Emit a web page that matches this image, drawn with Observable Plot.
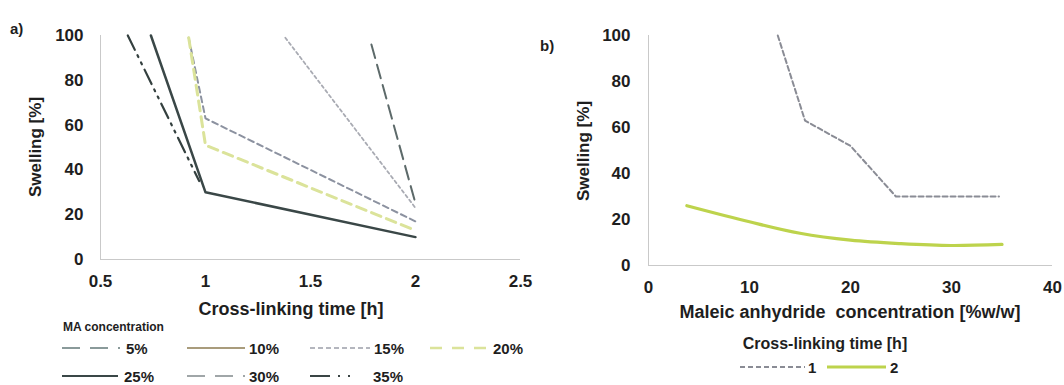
<!DOCTYPE html>
<html><head><meta charset="utf-8">
<script src="https://cdn.jsdelivr.net/npm/d3@7"></script>
<script src="https://cdn.jsdelivr.net/npm/@observablehq/plot@0.6"></script>
<style>
body{margin:0;background:#fff;}
#wrap{position:relative;width:1064px;height:385px;overflow:hidden;background:#fff}
#wrap > svg{position:absolute;top:0}
</style></head><body><div id="wrap"></div>
<script>
// ---- Panel a data: swelling [%] vs cross-linking time [h], per MA concentration
const t5 = [1.79, 2],        sw5 = [96, 25];
const t10 = [1.38, 2],       sw10 = [99, 23];
const t15 = [0.92, 1, 2],    sw15 = [99, 63, 17];
const t20 = [0.92, 1, 2],    sw20 = [99, 51, 13];
const t25 = [0.74, 1, 2],    sw25 = [100, 30, 10];
const t35 = [0.63, 0.97],    sw35 = [100, 35];
const legendA = ["5%", "10%", "15%", "20%", "25%", "30%", "35%"];
const xTicksA = [0.5, 1, 1.5, 2, 2.5];
const yTicks = [0, 20, 40, 60, 80, 100];

// ---- Panel b data: swelling [%] vs maleic anhydride concentration [%w/w]
const conc1 = [12.8, 15.5, 20, 24.5, 30, 34.7], sw1 = [100, 63, 52, 30, 30, 30];
const conc2 = [3.8, 10, 15, 20, 25, 30, 35],     sw2 = [26, 19, 14, 11, 9.5, 8.7, 9.2];
const legendB = ["1", "2"];
const xTicksB = [0, 10, 20, 30, 40];

const FONT = '"Liberation Sans", Arial, sans-serif';
const tbl = (xs, ys) => xs.map((x, i) => ({x, y: ys[i]}));
const axisCol = "#c9c9c9";

const stylesA = {
  s10: {stroke: "#a9abb3", strokeWidth: 1.8, strokeDasharray: "3,3"},
  s5:  {stroke: "#5d6a6a", strokeWidth: 2, strokeDasharray: "14,7"},
  s15: {stroke: "#8c92a0", strokeWidth: 2, strokeDasharray: "6,4"},
  s20: {stroke: "#dbe39a", strokeWidth: 3, strokeDasharray: "10,6"},
  s25: {stroke: "#3a4747", strokeWidth: 2.5},
  s35: {stroke: "#34403f", strokeWidth: 2.2, strokeDasharray: "16,6,2,6,2,6"}
};

const plotA = Plot.plot({
  width: 540, height: 300,
  marginLeft: 100, marginRight: 20, marginTop: 35, marginBottom: 41,
  style: {fontFamily: FONT, fontSize: "17px", fontWeight: "bold", color: "#1e1e1e", background: "transparent"},
  x: {domain: [0.5, 2.5]},
  y: {domain: [0, 100]},
  marks: [
    Plot.ruleX([0.5], {y1: 0, y2: 100, stroke: axisCol}),
    Plot.ruleY([0], {stroke: axisCol}),
    Plot.axisX({ticks: xTicksA, tickSize: 0, tickPadding: 15, label: null, tickFormat: d => String(d)}),
    Plot.axisY({ticks: yTicks, tickSize: 0, tickPadding: 17, label: null}),
    Plot.line(tbl(t10, sw10), {x: "x", y: "y", ...stylesA.s10}),
    Plot.line(tbl(t5, sw5), {x: "x", y: "y", ...stylesA.s5}),
    Plot.line(tbl(t15, sw15), {x: "x", y: "y", ...stylesA.s15}),
    Plot.line(tbl(t20, sw20), {x: "x", y: "y", ...stylesA.s20}),
    Plot.line(tbl(t35, sw35), {x: "x", y: "y", ...stylesA.s35}),
    Plot.line(tbl(t25, sw25), {x: "x", y: "y", ...stylesA.s25})
  ]
});

const plotB = Plot.plot({
  width: 524, height: 300,
  marginLeft: 108, marginRight: 12, marginTop: 35, marginBottom: 35,
  style: {fontFamily: FONT, fontSize: "17px", fontWeight: "bold", color: "#1e1e1e", background: "transparent"},
  x: {domain: [0, 40]},
  y: {domain: [0, 100]},
  marks: [
    Plot.ruleX([0], {y1: 0, y2: 100, stroke: axisCol}),
    Plot.ruleY([0], {stroke: axisCol}),
    Plot.axisX({ticks: xTicksB, tickSize: 0, tickPadding: 15, label: null}),
    Plot.axisY({ticks: yTicks, tickSize: 0, tickPadding: 18, label: null}),
    Plot.line(tbl(conc1, sw1), {x: "x", y: "y", stroke: "#8a8c95", strokeWidth: 2, strokeDasharray: "5,3"}),
    Plot.line(tbl(conc2, sw2), {x: "x", y: "y", stroke: "#bdd34c", strokeWidth: 3.2, curve: "catmull-rom"})
  ]
});

const wrap = document.getElementById("wrap");
plotA.style.left = "0px";
plotB.style.left = "540px";
wrap.appendChild(plotA);
wrap.appendChild(plotB);

// ---- Overlay: panel letters, axis titles, legends
const ov = d3.select(wrap).append("svg")
  .attr("width", 1064).attr("height", 385)
  .style("left", "0px")
  .style("font-family", FONT).style("font-weight", "bold").style("fill", "#1e1e1e");

function txt(s, x, y, size, anchor = "middle", rot = 0) {
  const t = ov.append("text").text(s)
    .attr("font-size", size).attr("text-anchor", anchor)
    .attr("dominant-baseline", "central");
  if (rot) t.attr("transform", `translate(${x},${y}) rotate(${rot})`);
  else t.attr("x", x).attr("y", y);
  return t;
}
function sw(x1, x2, y, st) {
  ov.append("line").attr("x1", x1).attr("x2", x2).attr("y1", y).attr("y2", y)
    .attr("stroke", st.stroke).attr("stroke-width", st.strokeWidth)
    .attr("stroke-dasharray", st.strokeDasharray || null);
}

txt("a)", 10, 28, 15, "start");
txt("b)", 540, 45, 15, "start");
txt("Swelling [%]", 35, 147, 17, "middle", -90);
txt("Swelling [%]", 583, 151, 17, "middle", -90);
txt("Cross-linking time [h]", 291, 309, 18);
txt("Maleic anhydride  concentration [%w/w]", 850, 312, 18).attr("xml:space", "preserve").style("white-space", "pre");

// Legend a
txt("MA concentration", 63, 327, 12, "start");
const legStyles = [
  {stroke: "#8a9a9a", strokeWidth: 2.2, strokeDasharray: "18,10"},
  {stroke: "#a99c7c", strokeWidth: 2.2},
  {stroke: "#b4b6be", strokeWidth: 2, strokeDasharray: "5,3"},
  {stroke: "#dbe39a", strokeWidth: 2.5, strokeDasharray: "12,10"},
  {stroke: "#3a4747", strokeWidth: 2},
  {stroke: "#a0a6a8", strokeWidth: 2, strokeDasharray: "18,10"},
  {stroke: "#3a4545", strokeWidth: 2.2, strokeDasharray: "20,8,2,8,2,8"}
];
const legPos = [
  [62, 120, 126, 348], [187, 245, 249, 348], [310, 370, 374, 348], [430, 490, 493, 348],
  [62, 118, 124, 376], [187, 245, 249, 376], [310, 358, 373, 376]
];
legendA.forEach((lab, i) => {
  const [a, b, tx, y] = legPos[i];
  sw(a, b, y, legStyles[i]);
  txt(lab, tx, y, 15, "start");
});

// Legend b
txt("Cross-linking time [h]", 825, 343, 16);
sw(740, 805, 367, {stroke: "#8a8c95", strokeWidth: 2, strokeDasharray: "5,3"});
txt(legendB[0], 808, 367, 15, "start");
sw(827, 886, 367, {stroke: "#bdd34c", strokeWidth: 3.2});
txt(legendB[1], 890, 367, 15, "start");
</script></body></html>
